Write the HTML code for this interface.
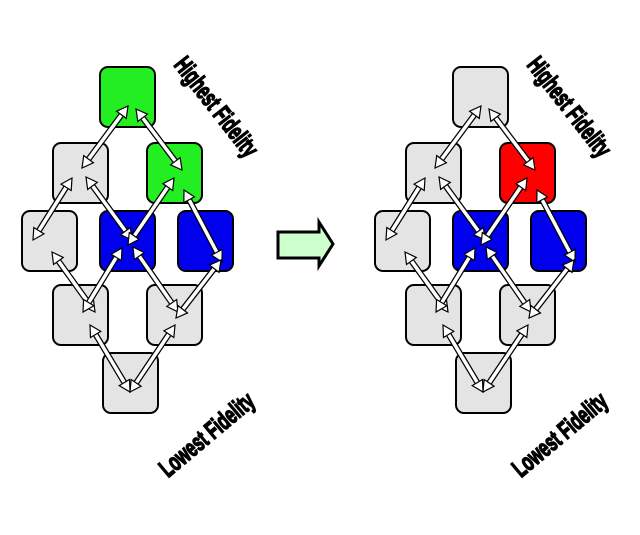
<!DOCTYPE html>
<html><head><style>
body{margin:0;background:#fff;width:640px;height:535px;overflow:hidden}
svg{display:block}
text{font-family:"Liberation Sans",sans-serif;font-weight:bold;font-size:20px;stroke:#000;stroke-width:1.2}
</style></head><body>
<svg id="s" width="640" height="535" viewBox="0 0 640 535">
<polygon points="278,232 319,232 319,222 333,244 319,266 319,258 278,258" fill="#ccffcc" stroke="#000" stroke-width="3"/>
</svg>
<script>
const S="http://www.w3.org/2000/svg";
const svg=document.getElementById('s');
function el(t,a,p){const e=document.createElementNS(S,t);for(const k in a)e.setAttribute(k,a[k]);(p||svg).appendChild(e);return e;}
function box(x,y,c){el('rect',{x:x,y:y,width:55,height:60,rx:8,ry:8,fill:c,stroke:'#000','stroke-width':2});}
function head(x,y,ux,uy,g){const px=-uy,py=ux;const b=11,w=6;
el('polygon',{points:`${x},${y} ${x-ux*b+px*w},${y-uy*b+py*w} ${x-ux*b-px*w},${y-uy*b-py*w}`,fill:'#fff',stroke:'#000','stroke-width':1.2},g);}
function arr(x1,y1,x2,y2){const g=el('g',{});const dx=x2-x1,dy=y2-y1,L=Math.hypot(dx,dy),ux=dx/L,uy=dy/L;
const a=[x1+ux*9,y1+uy*9],b=[x2-ux*9,y2-uy*9];
el('line',{x1:a[0],y1:a[1],x2:b[0],y2:b[1],stroke:'#000','stroke-width':6},g);
el('line',{x1:a[0],y1:a[1],x2:b[0],y2:b[1],stroke:'#fff','stroke-width':3.5},g);
head(x2,y2,ux,uy,g);head(x1,y1,-ux,-uy,g);}
function diagram(o,c){
box(100+o,67,c[0]);box(53+o,143,'#e4e4e4');box(147+o,143,c[1]);
box(22+o,211,'#e4e4e4');box(100+o,211,'#0000ee');box(178+o,211,'#0000ee');
box(53+o,285,'#e4e4e4');box(147+o,285,'#e4e4e4');box(103+o,353,'#e4e4e4');
const A=[[128,106,82,168],[136,109,182,170],[72,178,33,240],[86,177,132,240],[174,178,128,245],[184,190,222,262],[52,252,95,312],[122,248,83,312],[133,247,178,312],[221,260,176,318],[90,325,130,392],[175,325,130,392]];
A.forEach(a=>arr(a[0]+o,a[1],a[2]+o,a[3]));
el('text',{x:0,y:0,transform:`translate(${215+o},${108}) rotate(52) scale(0.8,1.25)`,'text-anchor':'middle','dominant-baseline':'middle'}).textContent='Highest Fidelity';
el('text',{x:0,y:0,transform:`translate(${208+o},${436}) rotate(-40) scale(0.8,1.25)`,'text-anchor':'middle','dominant-baseline':'middle'}).textContent='Lowest Fidelity';
}
diagram(0,['#22ee22','#22ee22']);
diagram(353,['#e4e4e4','#ff0000']);
</script>
</body></html>
